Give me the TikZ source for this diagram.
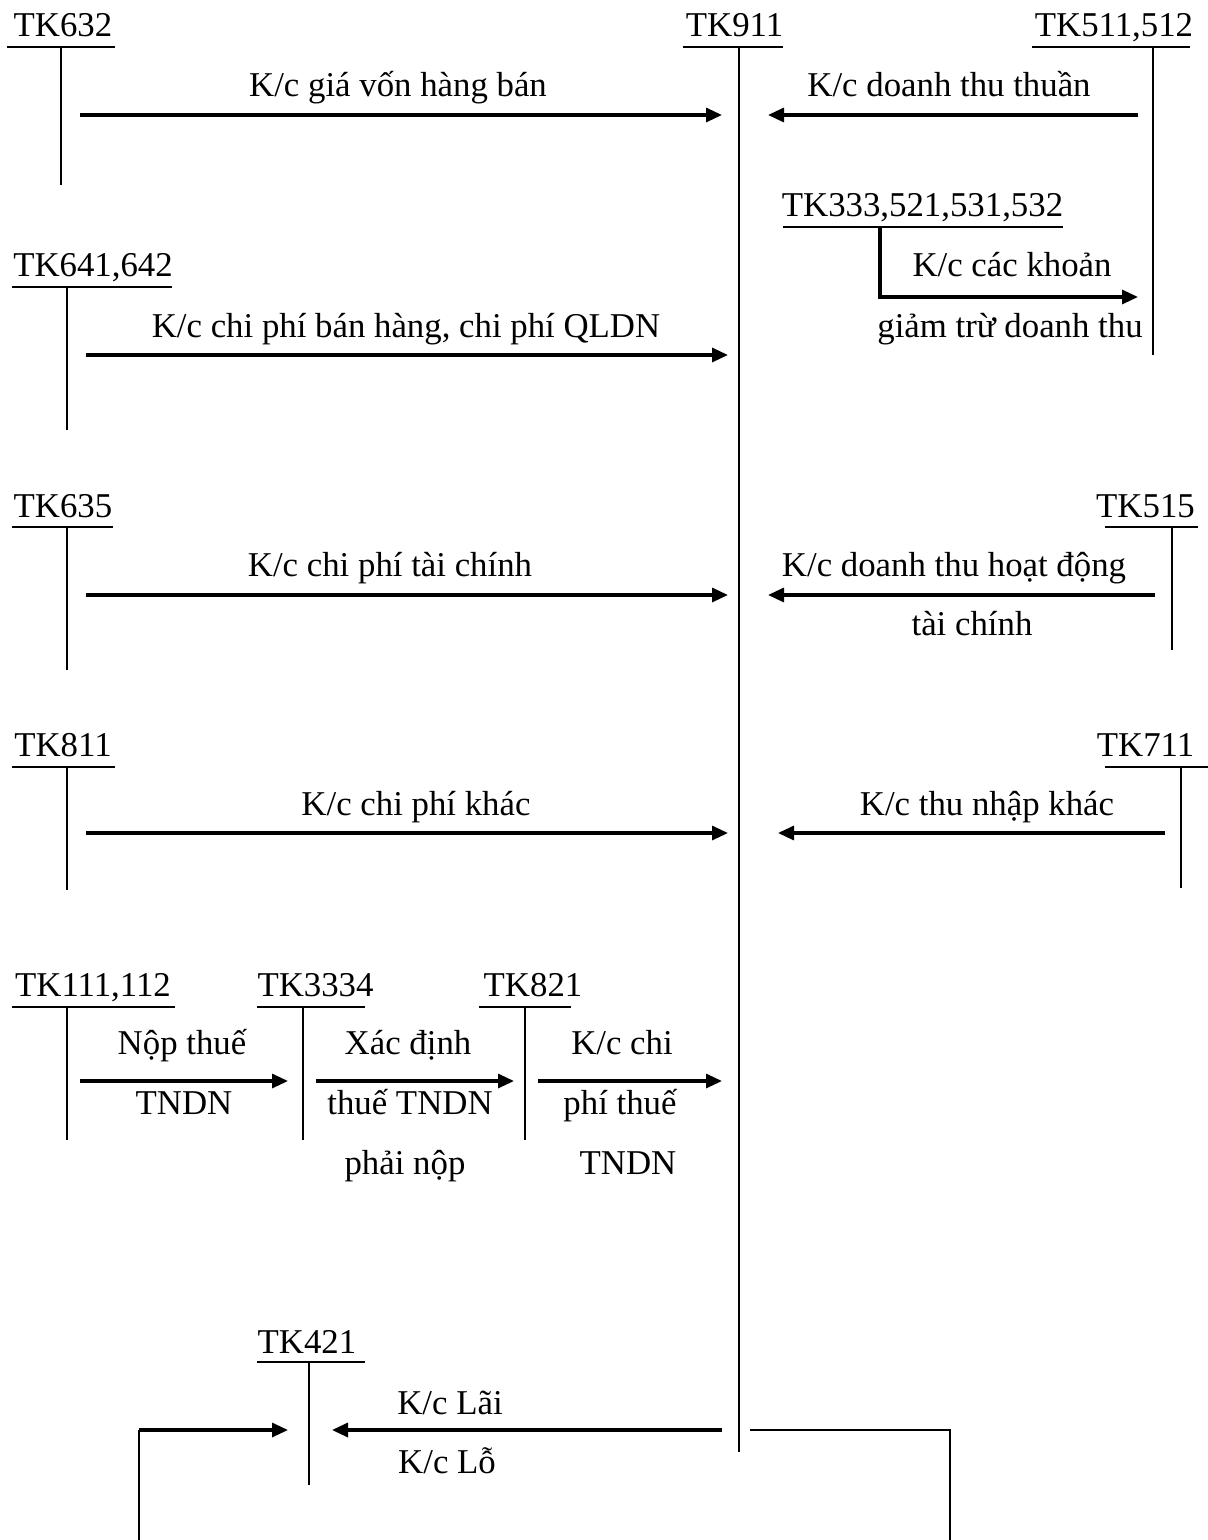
\documentclass[tikz,border=0pt]{standalone}
\usepackage{fontspec}
\setmainfont{Liberation Serif}
\usetikzlibrary{arrows.meta}
\begin{document}
\begin{tikzpicture}[x=0.5pt,y=-0.5pt,
  every node/.style={font=\fontsize{17.4}{20}\selectfont},
  acct/.style={anchor=base,inner sep=0pt},
  lbl/.style={anchor=base,inner sep=0pt},
  tline/.style={line width=1.2pt},
  flow/.style={line width=1.6pt,-{Triangle[length=8pt,width=7pt]}}]
\useasboundingbox (0,0) rectangle (1208,1540);

% ---- account names ----
\node[acct] (n632)  at (63,37)     {TK632};
\node[acct] (n911)  at (734.5,37)  {TK911};
\node[acct] (n511)  at (1114,37)   {TK511,512};
\node[acct] (n333)  at (922.5,217) {TK333,521,531,532};
\node[acct] (n641)  at (93,277)    {TK641,642};
\node[acct] (n635)  at (63,517)    {TK635};
\node[acct] (n515)  at (1145.5,517){TK515};
\node[acct] (n811)  at (63,756)    {TK811};
\node[acct] (n711)  at (1145.5,756){TK711};
\node[acct] (n111)  at (93,996)    {TK111,112};
\node[acct] (n3334) at (315.5,996) {TK3334};
\node[acct] (n821)  at (533,996)   {TK821};
\node[acct] (n421)  at (307,1353)  {TK421};

% ---- T-account bars ----
\draw[tline] (7,47) -- (115,47);       \draw[tline] (61,47) -- (61,185);
\draw[tline] (683,47) -- (783,47);     \draw[tline] (739,47) -- (739,1452);
\draw[tline] (1032,47) -- (1190,47);   \draw[tline] (1153,47) -- (1153,355);
\draw[tline] (783,227) -- (1063,227);
\draw[tline] (12,287) -- (172,287);    \draw[tline] (67,287) -- (67,430);
\draw[tline] (12,527) -- (113,527);    \draw[tline] (67,527) -- (67,670);
\draw[tline] (1105,527) -- (1198,527); \draw[tline] (1172,527) -- (1172,650);
\draw[tline] (12,767) -- (115,767);    \draw[tline] (67,767) -- (67,890);
\draw[tline] (1105,767) -- (1208,767); \draw[tline] (1181,767) -- (1181,888);
\draw[tline] (12,1007) -- (175,1007);  \draw[tline] (67,1007) -- (67,1140);
\draw[tline] (257,1007) -- (365,1007); \draw[tline] (303,1007) -- (303,1140);
\draw[tline] (479,1007) -- (571,1007); \draw[tline] (525,1007) -- (525,1140);
\draw[tline] (257,1362) -- (365,1362); \draw[tline] (309,1362) -- (309,1485);

% ---- flow end points ----
\coordinate (a1s) at (80,115);   \coordinate (a1e) at (722,115);
\coordinate (a2s) at (1138,115); \coordinate (a2e) at (768,115);
\coordinate (a3s) at (880,227);  \coordinate (a3e) at (1138,297);
\coordinate (a4s) at (86,355);   \coordinate (a4e) at (728,355);
\coordinate (a5s) at (86,595);   \coordinate (a5e) at (728,595);
\coordinate (a6s) at (1155,595); \coordinate (a6e) at (768,595);
\coordinate (a7s) at (86,833);   \coordinate (a7e) at (728,833);
\coordinate (a8s) at (1165,833); \coordinate (a8e) at (778,833);
\coordinate (a9s) at (80,1081);  \coordinate (a9e) at (288,1081);
\coordinate (a10s) at (316,1081);\coordinate (a10e) at (514,1081);
\coordinate (a11s) at (538,1081);\coordinate (a11e) at (722,1081);
\coordinate (a12s) at (722,1430);\coordinate (a12e) at (332,1430);
\coordinate (l1) at (750,1430);  \coordinate (l2) at (950,1430);
\coordinate (l3) at (950,1540);  \coordinate (l4) at (139,1540);
\coordinate (l5) at (139,1430);  \coordinate (l6) at (288,1430);

% ---- flows ----
\draw[flow] (a1s) -- (a1e);
\draw[flow] (a2s) -- (a2e);
\draw[flow] (a3s) |- (a3e);
\draw[flow] (a4s) -- (a4e);
\draw[flow] (a5s) -- (a5e);
\draw[flow] (a6s) -- (a6e);
\draw[flow] (a7s) -- (a7e);
\draw[flow] (a8s) -- (a8e);
\draw[flow] (a9s) -- (a9e);
\draw[flow] (a10s) -- (a10e);
\draw[flow] (a11s) -- (a11e);
\draw[flow] (a12s) -- (a12e);
\draw[tline] (l1) -- (l2) -- (l3);
\draw[tline] (l4) -- (l5);
\draw[flow] (l5) -- (l6);

% ---- flow labels ----
\node[lbl] (t1)  at (398,97)   {K/c giá vốn hàng bán};
\node[lbl] (t2)  at (949,97)   {K/c doanh thu thuần};
\node[lbl] (t3a) at (1012,277) {K/c các khoản};
\node[lbl] (t3b) at (1010,337) {giảm trừ doanh thu};
\node[lbl] (t4)  at (406,337)  {K/c chi phí bán hàng, chi phí QLDN};
\node[lbl] (t5)  at (390,576)  {K/c chi phí tài chính};
\node[lbl] (t6a) at (954,576)  {K/c doanh thu hoạt động};
\node[lbl] (t6b) at (972,635)  {tài chính};
\node[lbl] (t7)  at (416,815)  {K/c chi phí khác};
\node[lbl] (t8)  at (987,815)  {K/c thu nhập khác};
\node[lbl] (t9a) at (182,1054) {Nộp thuế};
\node[lbl] (t9b) at (184,1114) {TNDN};
\node[lbl] (t10a) at (408,1054) {Xác định};
\node[lbl] (t10b) at (410,1114) {thuế TNDN};
\node[lbl] (t10c) at (405,1174) {phải nộp};
\node[lbl] (t11a) at (622,1054) {K/c chi};
\node[lbl] (t11b) at (620,1114) {phí thuế};
\node[lbl] (t11c) at (628,1174) {TNDN};
\node[lbl] (t12a) at (450,1414) {K/c Lãi};
\node[lbl] (t12b) at (447,1473) {K/c Lỗ};
\end{tikzpicture}
\end{document}
